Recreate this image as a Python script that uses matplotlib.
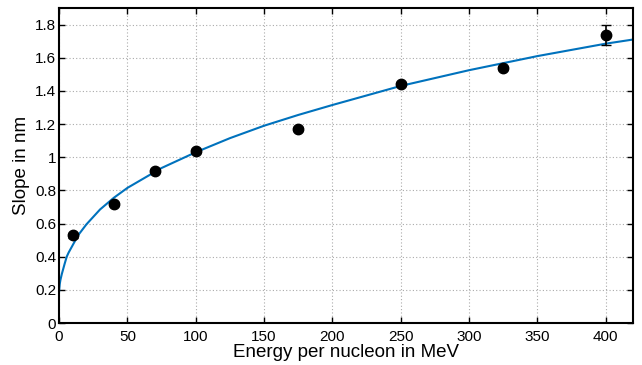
import numpy as np
import matplotlib.pyplot as plt
import matplotlib as mpl

# measured slopes
energy = [10, 40, 70, 100, 175, 250, 325, 400]
slope = [0.53, 0.72, 0.92, 1.04, 1.17, 1.44, 1.54, 1.74]
slope_err = [0.015, 0.012, 0.012, 0.012, 0.012, 0.012, 0.012, 0.06]

# fitted curve
fit_x = [0, 0.5, 1, 2, 3, 4, 5.6, 7, 10, 14, 20, 30, 40, 50, 75, 100, 125, 150,
         175, 200, 250, 300, 350, 400, 420]
fit_y = [0.19, 0.235, 0.26, 0.295, 0.325, 0.355, 0.40, 0.425, 0.47, 0.53,
         0.595, 0.685, 0.755, 0.815, 0.935, 1.03, 1.115, 1.19, 1.255, 1.315,
         1.43, 1.525, 1.61, 1.685, 1.71]

mpl.rcParams["font.family"] = "Liberation Sans"
mpl.rcParams["font.size"] = 11

fig = plt.figure(figsize=(6.42, 3.65), dpi=100)
ax = fig.add_axes([0.092, 0.115, 0.894, 0.863])

ax.plot(fit_x, fit_y, color="#0072BD", lw=1.5, zorder=2)
ax.errorbar(energy, slope, yerr=slope_err, fmt="o", color="black",
            markersize=7.5, capsize=3.5, elinewidth=1.2, zorder=3)

ax.set_xlim(0, 420)
ax.set_ylim(0, 1.9)
ax.set_xticks(range(0, 401, 50))
ax.set_yticks([0, 0.2, 0.4, 0.6, 0.8, 1, 1.2, 1.4, 1.6, 1.8])
ax.set_yticklabels(["0", "0.2", "0.4", "0.6", "0.8", "1", "1.2", "1.4", "1.6", "1.8"])

ax.tick_params(direction="in", top=True, right=True, length=4, width=1,
               labelsize=11)
ax.tick_params(axis="x", pad=5)
ax.tick_params(axis="y", pad=2)
for s in ax.spines.values():
    s.set_linewidth(1.5)
ax.grid(True, linestyle=(0, (1, 2)), color="#aaaaaa", linewidth=0.8)

ax.set_xlabel("Energy per nucleon in MeV", fontsize=13.5, labelpad=0)
ax.set_ylabel("Slope in nm", fontsize=13.5, labelpad=4)

plt.savefig("out.png", dpi=100)
